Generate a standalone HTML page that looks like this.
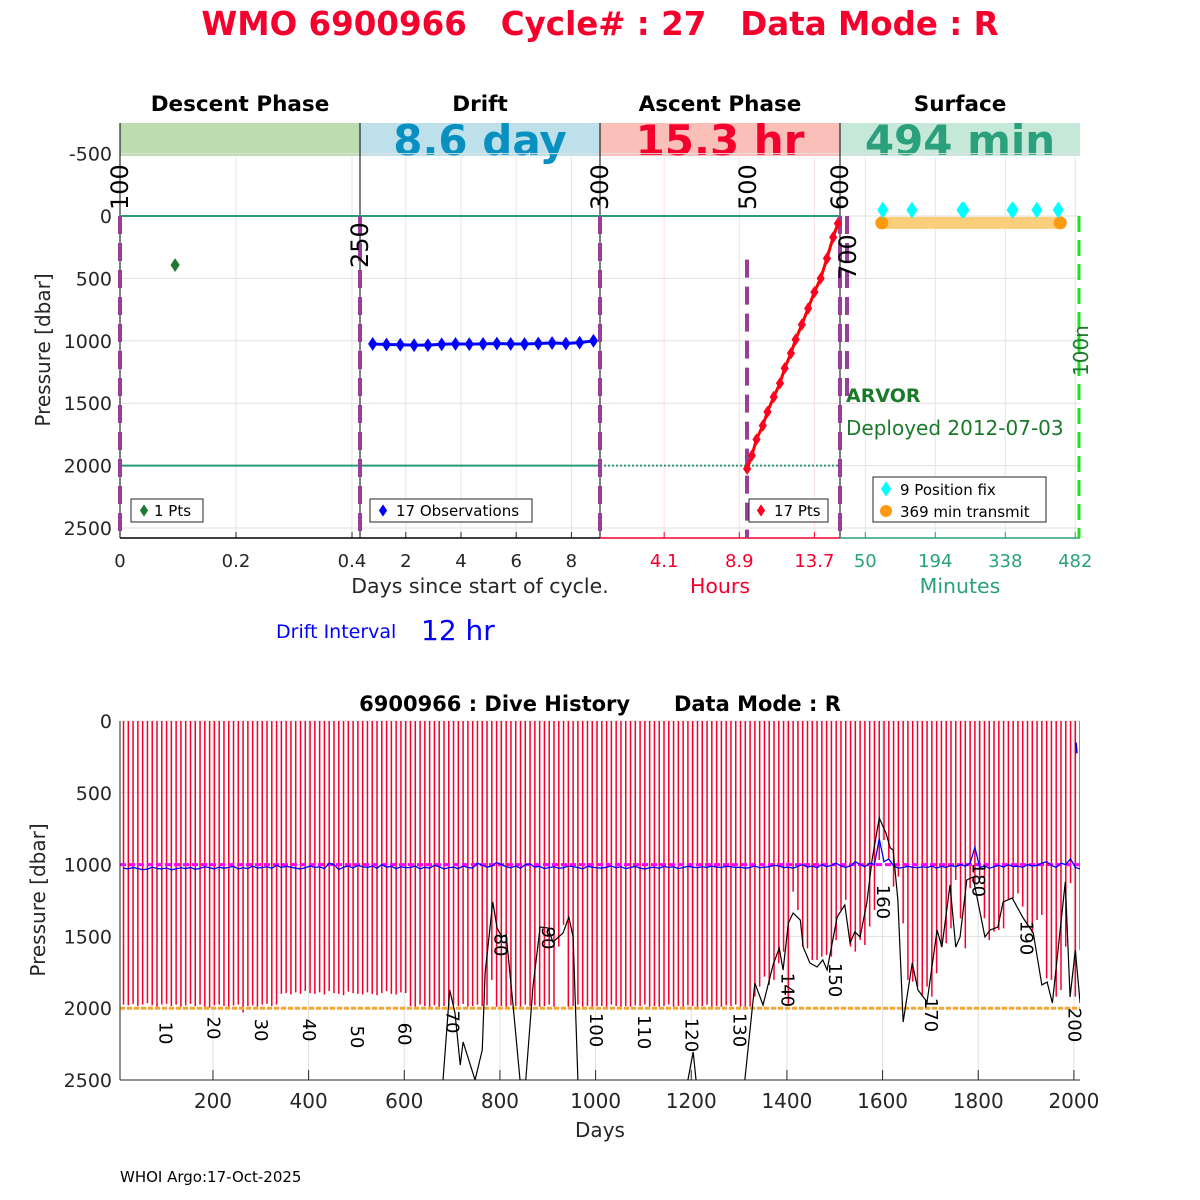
<!DOCTYPE html>
<html><head><meta charset="utf-8"><style>
html,body{margin:0;padding:0;background:#fff;}
svg{display:block;font-family:"DejaVu Sans","Liberation Sans",sans-serif;}
.pre{white-space:pre;}
</style></head><body>
<svg id="fig" width="1200" height="1200" viewBox="0 0 1200 1200" xmlns="http://www.w3.org/2000/svg">
<text class="pre" x="600" y="35" text-anchor="middle" font-size="32.5" font-weight="bold" fill="#f5002d">WMO 6900966   Cycle# : 27   Data Mode : R</text>
<g id="top"></g>
<g id="bot"></g>
<text x="120" y="1182" font-size="15" fill="#000">WHOI Argo:17-Oct-2025</text>
</svg>
<script>
// ---------- Top chart data ----------
const descentDays = [0.095];
const descentPres = [393];
const driftDays = [0.8,1.3,1.8,2.3,2.8,3.3,3.8,4.3,4.8,5.3,5.8,6.3,6.8,7.3,7.8,8.3,8.8];
const driftPres = [1025,1030,1032,1035,1035,1028,1025,1027,1025,1022,1025,1026,1022,1018,1022,1015,1000];
const ascentHours = [9.4,9.7,10.0,10.4,10.7,11.1,11.5,11.8,12.2,12.5,12.9,13.3,13.7,14.1,14.5,14.9,15.2];
const ascentPres = [2025,1920,1790,1680,1570,1450,1340,1220,1100,990,870,740,610,500,340,170,60];
const fixMinutes = [86,146,249,251,253,352,354,403,447];
const fixPres = [-48,-48,-48,-48,-48,-48,-48,-48,-48];
const transmitMinutes = [84,451];
const transmitPres = 55;
const presTicksTop = [-500,0,500,1000,1500,2000,2500];
const descentTicks = [0,0.2,0.4];
const driftTicks = [2,4,6,8];
const ascentTicks = [4.1,8.9,13.7];
const surfaceTicks = [50,194,338,482];

// ---------- Bottom chart data ----------
const firstCycleDay = 3, cycleInterval = 10;
const profileDepth = [
1975,1980,1970,1985,1975,1965,1980,1990,1975,1970,
1985,1975,1990,1980,1970,1985,1975,1990,1995,1980,
1975,1985,1990,1980,1975,2030,1985,1980,1990,1975,
1970,1985,1975,1900,1895,1905,1890,1900,1880,1895,
1900,1890,1905,1880,1895,1900,1910,1885,1895,1900,
1905,1890,1900,1910,1895,1880,1900,1905,1890,1895,
1985,1990,1975,1985,1990,1980,1995,1985,1990,1975,
1985,1970,1990,1985,1975,1985,1980,1803,1990,1985,
1990,1980,1985,1990,1975,1985,1980,1990,1985,1975,
1990,1571,1420,1990,1985,1975,1990,1985,1990,1985,
1985,1990,1975,1985,1990,1985,1990,1980,1985,1975,
1990,1985,1990,1985,1975,1990,1985,1990,1980,1985,
1990,1985,1975,1990,1985,1990,1980,1985,1975,1990,
1989,1989,1919,1850,1780,1838,1803,1687,1606,1977,
1188,1316,1571,1583,1664,1664,1641,1629,1641,1525,
1316,1246,1571,1606,1525,1560,1432,1316,968,829,
956,1153,1084,1409,1803,1815,1850,1919,1850,1919,
1757,1571,1548,1444,1107,1374,1583,1165,1130,1107,
1374,1525,1467,1455,1444,1246,1235,1200,1293,1432,
1478,1386,1351,1792,1803,1919,1873,1571,1130,1919,
1594];
const driftHist = [
1025,1030,1020,1028,1035,1032,1018,1027,1030,1024,1036,1030,1022,1028,1020,1032,1026,1015,1022,1030,
1018,1025,1020,1012,1030,1022,1028,1010,1024,1020,1015,1026,1005,1020,1012,1018,1025,1030,1022,1010,
1020,1015,1028,990,1000,1035,1018,1010,1024,1005,1015,1020,1010,1025,1000,1018,1012,1028,1015,1022,
1020,1010,1030,1018,1025,1005,1015,1030,1022,1018,1028,1010,1020,1025,990,1005,1018,1010,985,1000,
1015,1022,1010,1025,1000,995,1018,1012,1028,1020,1015,1025,1022,1010,1015,1020,1030,1012,1018,1022,
1025,1018,1010,1022,1015,1028,1020,1012,1025,1030,1022,1018,1026,1012,1020,1015,1028,1020,1012,1018,
1022,1015,1020,1010,1018,1020,1012,1015,1020,1018,1025,1020,1010,1022,1018,1015,1005,1010,1020,1018,
1025,1012,1000,1018,1010,1022,1000,1015,1005,990,1010,1020,1008,980,1000,1015,990,1000,820,980,
960,1010,1025,1020,1012,1018,1022,1015,1020,1010,1025,1012,1020,1005,1015,1000,1010,990,880,1020,
1010,1025,1015,1005,1018,1000,1015,1010,1020,1000,1010,1005,990,980,1005,1020,990,1000,960,1020,
1030];
const lateDriftDays = [2004,2005,2006];
const lateDriftPres = [150,190,225];
const bathyDays = [0,670,681,695,706,717,723,748,763,769,785,794,804,813,827,842,854,869,884,900,911,932,944,953,963,1000,1190,1193,1204,1210,1250,1300,1312,1333,1350,1371,1384,1392,1403,1413,1428,1434,1448,1463,1475,1484,1505,1521,1532,1542,1553,1567,1578,1593,1607,1616,1622,1632,1643,1662,1674,1693,1714,1724,1741,1753,1762,1776,1789,1814,1825,1841,1852,1871,1894,1915,1933,1944,1955,1982,1992,2003,2013];
const bathyDepth = [2800,2800,2500,1873,2033,2396,2235,2500,2291,1755,1260,1441,1504,1490,1964,2500,2500,1852,1435,1441,1539,1476,1365,1504,2500,2800,2800,2500,2305,2500,2800,2800,2500,1825,1978,1699,1581,1734,1407,1337,1386,1574,1685,1713,1664,1734,1365,1281,1546,1469,1504,1267,968,675,780,884,898,1247,2096,1685,1873,1957,1455,1574,1142,1574,1504,1107,1086,1504,1455,1435,1260,1233,1372,1476,1838,1818,1964,1121,1922,1595,1964];
const labelCycles = [10,20,30,40,50,60,70,80,90,100,110,120,130,140,150,160,170,180,190,200];
const labelPres = [2173,2138,2152,2152,2200,2180,2096,1560,1511,2152,2166,2187,2152,1873,1804,1260,2047,1107,1511,2117];
const dayTicks = [200,400,600,800,1000,1200,1400,1600,1800,2000];
const presTicksBot = [0,500,1000,1500,2000,2500];

const NS = "http://www.w3.org/2000/svg";
function mk(parent, tag, attrs, text) {
  const e = document.createElementNS(NS, tag);
  for (const k in attrs) e.setAttribute(k, attrs[k]);
  if (text !== undefined) e.textContent = text;
  parent.appendChild(e);
  return e;
}

// ---------- Top chart ----------
const T = document.getElementById('top');
const yT = p => 216 + p * 0.1248;
const xD = d => 120 + d * 580;
const xDr = d => 350.6 + d * 27.6;
const xA = h => 600 + h * 15.65;
const xS = m => 841 + m * 0.486;
const TOP = 123, BOT = 538;

const bars = [[120,'#bddcb0','Descent Phase','', ''],[360,'#bde0ea','Drift','8.6 day','#0790c0'],[600,'#fbbfb9','Ascent Phase','15.3 hr','#f5002d'],[840,'#c5e8d8','Surface','494 min','#2aa07c']];
bars.forEach((b,i)=>{
  const r = mk(T,'rect',{x:b[0],y:TOP,width:240,height:33,fill:b[1]});
  
  
  const t = mk(T,'text',{x:b[0]+120,y:111,'text-anchor':'middle','font-size':21.5,'font-weight':'bold'},b[2]);
  
  
  if (b[3]) {
    const v = mk(T,'text',{x:b[0]+120,y:155,'text-anchor':'middle','font-size':42,'font-weight':'bold',fill:b[4]},b[3]);
    
    
  }
});
presTicksTop.forEach(p=>{
  const g = mk(T,'line',{x1:120,x2:1080,y1:yT(p),y2:yT(p),stroke:'#e0e0e0','stroke-width':1});
  
  
  const t = mk(T,'text',{x:112,y:yT(p)+7,'text-anchor':'end','font-size':19,fill:'#262626'},String(p));
  
  
});
function panelTicks(ticks, fx, gridColor, labColor, fmt) {
  ticks.forEach(v=>{
    const x = fx(v);
    const g = mk(T,'line',{x1:x,x2:x,y1:157,y2:BOT,stroke:gridColor,'stroke-width':1});
    
    
    const tk = mk(T,'line',{x1:x,x2:x,y1:BOT,y2:BOT-6,stroke:labColor,'stroke-width':1});
    
    
    const t = mk(T,'text',{x:x,y:567,'text-anchor':'middle','font-size':18,fill:labColor},fmt(v));
    
    
  });
}
panelTicks(descentTicks, xD, '#e4e4e4', '#262626', v=>String(v));
panelTicks(driftTicks, xDr, '#e4e4e4', '#262626', v=>String(v));
panelTicks(ascentTicks, xA, '#fbe0e4', '#f5002d', v=>v.toFixed(1));
panelTicks(surfaceTicks, xS, '#d8ece6', '#2aa07c', v=>String(v));
[[120,'#000'],[360,'#000'],[600,'#000'],[840,'#000']].forEach(a=>{
  const l = mk(T,'line',{x1:a[0],x2:a[0],y1:TOP,y2:BOT,stroke:a[1],'stroke-width':1});
  
  
});
[[120,600,'#000'],[600,840,'#f5002d'],[840,1080,'#2aa07c']].forEach(a=>{
  const l = mk(T,'line',{x1:a[0],x2:a[1],y1:BOT,y2:BOT,stroke:a[2],'stroke-width':1.5});
  
  
});
let l1 = mk(T,'line',{x1:120,x2:840,y1:yT(0),y2:yT(0),stroke:'#2a9a78','stroke-width':2});


let l2 = mk(T,'line',{x1:120,x2:600,y1:yT(2000),y2:yT(2000),stroke:'#2a9a78','stroke-width':2});


let l3 = mk(T,'line',{x1:600,x2:840,y1:yT(2000),y2:yT(2000),stroke:'#2a9a78','stroke-width':2,'stroke-dasharray':'2,2'});


[[120,0,2580],[360,0,2580],[600,0,2580],[840,0,2580],[747,350,2580],[847,0,1500]].forEach(d=>{
  const l = mk(T,'line',{x1:d[0],x2:d[0],y1:yT(d[1]),y2:yT(d[2]),stroke:'#9b3d9b','stroke-width':4,'stroke-dasharray':'18,9'});
  
  
});
let gl = mk(T,'line',{x1:1079,x2:1079,y1:yT(0),y2:BOT,stroke:'#22dd22','stroke-width':3,'stroke-dasharray':'16,8'});


[['100',128,210],['250',368,268],['300',608,210],['500',756,210],['600',848,210],['700',856,280]].forEach(r=>{
  const t = mk(T,'text',{x:r[1],y:r[2],'font-size':24,fill:'#000',transform:`rotate(-90 ${r[1]} ${r[2]})`},r[0]);
  
  
});
let nl = mk(T,'text',{x:1088,y:376,'font-size':20,fill:'#1a7a2a',transform:'rotate(-90 1088 376)'},'100n');



function diamond(parent, x, y, r, color, name) {
  const d = mk(parent,'path',{d:`M${x},${y-r*1.5}L${x+r},${y}L${x},${y+r*1.5}L${x-r},${y}Z`,fill:color,stroke:color,'stroke-width':1});
  
  
}
descentDays.forEach((d,i)=>diamond(T,xD(d),yT(descentPres[i]),4,'#1e7a30','descent-point'));
let dp = mk(T,'polyline',{points:driftDays.map((d,i)=>xDr(d)+','+yT(driftPres[i])).join(' '),fill:'none',stroke:'#0000ff','stroke-width':3});


driftDays.forEach((d,i)=>diamond(T,xDr(d),yT(driftPres[i]),4,'#0000ff','drift-point'));
let ap = mk(T,'polyline',{points:ascentHours.map((h,i)=>xA(h)+','+yT(ascentPres[i])).join(' '),fill:'none',stroke:'#ff0000','stroke-width':3});


ascentHours.forEach((h,i)=>diamond(T,xA(h),yT(ascentPres[i]),3.5,'#ff0020','ascent-point'));
let tb = mk(T,'line',{x1:xS(transmitMinutes[0]),x2:xS(transmitMinutes[1]),y1:yT(transmitPres),y2:yT(transmitPres),stroke:'#fbce7c','stroke-width':12});


transmitMinutes.forEach(m=>{
  const c = mk(T,'circle',{cx:xS(m),cy:yT(transmitPres),r:6.5,fill:'#ff9a10'});
  
  
});
fixMinutes.forEach((m,i)=>diamond(T,xS(m),yT(fixPres[i]),5,'#00ffff','position-fix'));

function legendBox(x,y,w,h,name){
  const r = mk(T,'rect',{x:x,y:y,width:w,height:h,fill:'#fff',stroke:'#262626','stroke-width':1});
  
  
}
legendBox(131,499,72,23,'descent-legend');
diamond(T,144,510.5,3.5,'#1e7a30','legend-marker');
let lt1 = mk(T,'text',{x:154,y:516,'font-size':15},'1 Pts');  
legendBox(370,499,162,23,'drift-legend');
diamond(T,383,510.5,3.5,'#0000ff','legend-marker');
let lt2 = mk(T,'text',{x:396,y:516,'font-size':15},'17 Observations');  
legendBox(749,499,79,23,'ascent-legend');
diamond(T,761,510.5,3.5,'#ff0020','legend-marker');
let lt3 = mk(T,'text',{x:774,y:516,'font-size':15},'17 Pts');  
legendBox(873,477,173,45,'surface-legend');
diamond(T,886,489,4.5,'#00ffff','legend-marker');
let lt4 = mk(T,'text',{x:900,y:495,'font-size':15},'9 Position fix');  
let lc = mk(T,'circle',{cx:886,cy:511,r:6,fill:'#ff9a10'});  
let lt5 = mk(T,'text',{x:900,y:517,'font-size':15},'369 min transmit');  

let a1 = mk(T,'text',{x:846,y:402,'font-size':19,'font-weight':'bold',fill:'#1a7a2a'},'ARVOR');  
let a2 = mk(T,'text',{x:846,y:435,'font-size':20,fill:'#1a7a2a'},'Deployed 2012-07-03');  
let a3 = mk(T,'text',{x:480,y:593,'text-anchor':'middle','font-size':20.5,fill:'#262626'},'Days since start of cycle.');  
let a4 = mk(T,'text',{x:720,y:593,'text-anchor':'middle','font-size':20.5,fill:'#f5002d'},'Hours');  
let a5 = mk(T,'text',{x:960,y:593,'text-anchor':'middle','font-size':20.5,fill:'#2aa07c'},'Minutes');  
let a6 = mk(T,'text',{x:276,y:638,'font-size':19,fill:'#0000ff'},'Drift Interval');  
let a7 = mk(T,'text',{x:421,y:640,'font-size':28,fill:'#0000ff'},'12 hr');  
let a8 = mk(T,'text',{x:50,y:350,'text-anchor':'middle','font-size':20,fill:'#262626',transform:'rotate(-90 50 350)'},'Pressure [dbar]');  

// ---------- Bottom chart ----------
const B = document.getElementById('bot');
const yB = p => 721 + p * 0.1436;
const xB = d => 117.3 + d * 0.4783;
const cycleDay = k => firstCycleDay + cycleInterval * k;

let bt = mk(B,'text',{x:600,y:711,'text-anchor':'middle','font-size':21,'font-weight':'bold','class':'pre'},'6900966 : Dive History      Data Mode : R');
 
let defs = mk(B,'defs',{});
let cp = mk(defs,'clipPath',{id:'bclip'});
mk(cp,'rect',{x:120,y:721,width:960,height:359});
presTicksBot.forEach(p=>{
  const g = mk(B,'line',{x1:120,x2:1080,y1:yB(p),y2:yB(p),stroke:'#e0e0e0','stroke-width':1});
  
  
  const t = mk(B,'text',{x:112,y:yB(p)+7,'text-anchor':'end','font-size':19,fill:'#262626'},String(p));
  
  
});
dayTicks.forEach(d=>{
  const g = mk(B,'line',{x1:xB(d),x2:xB(d),y1:721,y2:1080,stroke:'#e0e0e0','stroke-width':1});
  
  
  const tk = mk(B,'line',{x1:xB(d),x2:xB(d),y1:1080,y2:1070,stroke:'#262626','stroke-width':1});
  
  
  const t = mk(B,'text',{x:xB(d),y:1108,'text-anchor':'middle','font-size':20,fill:'#262626'},String(d));
  
  
});
const plotG = mk(B,'g',{'clip-path':'url(#bclip)'});


profileDepth.forEach((p,i)=>{
  const x = xB(cycleDay(i+1));
  const l = mk(plotG,'line',{x1:x,x2:x,y1:yB(0),y2:yB(p),stroke:'#f5002d','stroke-width':1.5});
  
  
});
let md = mk(plotG,'line',{x1:120,x2:1080,y1:yB(1000),y2:yB(1000),stroke:'#ff00ff','stroke-width':3,'stroke-dasharray':'6,3'});
 
let dl = mk(plotG,'polyline',{points:driftHist.map((p,i)=>xB(cycleDay(i+1))+','+yB(p)).join(' '),fill:'none',stroke:'#0000ff','stroke-width':1.3});
 
let ld = mk(plotG,'polyline',{points:lateDriftDays.map((d,i)=>xB(d)+','+yB(lateDriftPres[i])).join(' '),fill:'none',stroke:'#0000ff','stroke-width':2});
 
let od = mk(plotG,'line',{x1:120,x2:1080,y1:yB(2000),y2:yB(2000),stroke:'#f5a830','stroke-width':3,'stroke-dasharray':'5,2'});
 
let bl = mk(plotG,'polyline',{points:bathyDays.map((d,i)=>xB(d)+','+yB(bathyDepth[i])).join(' '),fill:'none',stroke:'#000','stroke-width':1.2});
 
labelCycles.forEach((c,i)=>{
  const x = xB(cycleDay(c)) - 7, y = yB(labelPres[i]);
  const t = mk(B,'text',{x:x,y:y,'text-anchor':'middle','font-size':18,fill:'#000',transform:`rotate(90 ${x} ${y})`},String(c));
  
  
});
let ax1 = mk(B,'line',{x1:120,x2:120,y1:721,y2:1080,stroke:'#262626','stroke-width':1});
 
let ax2 = mk(B,'line',{x1:120,x2:1080,y1:1080,y2:1080,stroke:'#262626','stroke-width':1});
 
let bx = mk(B,'text',{x:600,y:1137,'text-anchor':'middle','font-size':20,fill:'#262626'},'Days');
 
let by = mk(B,'text',{x:45,y:900,'text-anchor':'middle','font-size':20,fill:'#262626',transform:'rotate(-90 45 900)'},'Pressure [dbar]');
 
</script>
</body></html>
